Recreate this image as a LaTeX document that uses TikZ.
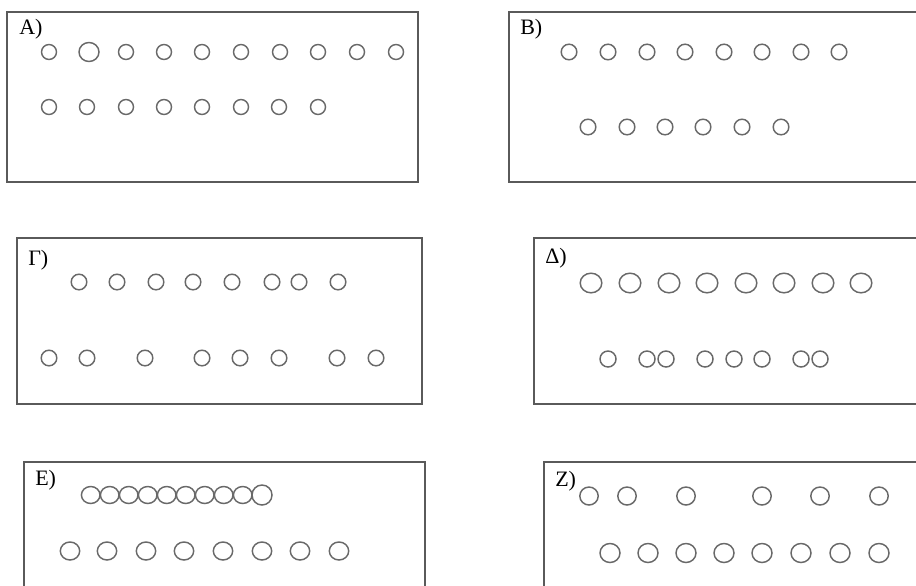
\documentclass[tikz,border=0pt]{standalone}
\usepackage{fontspec}
\setmainfont{Liberation Serif}
\definecolor{frameGray}{RGB}{90, 90, 90}
\definecolor{dotGray}{RGB}{105, 105, 105}

\begin{document}
\begin{tikzpicture}[
    x=0.75pt, y=-0.75pt,
    panel/.style={draw=frameGray, line width=1.4pt},
    dot/.style={draw=dotGray, line width=1.1pt},
    lbl/.style={anchor=base west, inner sep=0pt, font=\fontsize{16.5}{19}\selectfont}
  ]
    \useasboundingbox (0,0) rectangle (916,585);
    \clip (0,0) rectangle (916,585);

    % panel frames
    \draw[panel] (7,12) rectangle (418,182);
    \draw[panel] (509,12) rectangle (930,182);
    \draw[panel] (17,238) rectangle (422,404);
    \draw[panel] (534,238) rectangle (930,404);
    \draw[panel] (24,462) rectangle (425,600);
    \draw[panel] (544,462) rectangle (930,600);

    \node[lbl] (labA) at (19,35) {A)};
    \node[lbl] (labB) at (520,35) {B)};
    \node[lbl] (labG) at (28,265) {Γ)};
    \node[lbl] (labD) at (545,263) {Δ)};
    \node[lbl] (labE) at (35,485) {E)};
    \node[lbl] (labZ) at (555,486) {Z)};

    % A
    \draw[dot] (49,52) circle [radius=7.5];
    \draw[dot] (89,52) ellipse [x radius=10, y radius=9.5];
    \foreach \x in {126,164,202,241,280,318,357,396}
      \draw[dot] (\x,52) circle [radius=7.5];
    \foreach \x in {49,87,126,164,202,241,279,318}
      \draw[dot] (\x,107) circle [radius=7.5];

    % B
    \foreach \x in {569,608,647,685,724,762,801,839}
      \draw[dot] (\x,52) circle [radius=7.8];
    \foreach \x in {588,627,665,703,742,781}
      \draw[dot] (\x,127) circle [radius=7.8];

    % Gamma
    \foreach \x in {79,117,156,193,232,272,299,338}
      \draw[dot] (\x,282) circle [radius=7.8];
    \foreach \x in {49,87,145,202,240,279,337,376}
      \draw[dot] (\x,358) circle [radius=7.8];

    % Delta
    \foreach \x in {591,630,669,707,746,784,823,861}
      \draw[dot] (\x,283) ellipse [x radius=10.8, y radius=9.8];
    \foreach \x in {608,647,666,705,734,762,801,820}
      \draw[dot] (\x,359) circle [radius=8];

    % E
    \foreach \i in {0,...,8}
      \draw[dot] (90.7+19*\i,495) ellipse [x radius=9.3, y radius=8.5];
    \draw[dot] (262,495) circle [radius=10];
    \foreach \x in {70,107,146,184,223,262,300,339}
      \draw[dot] (\x,551) ellipse [x radius=9.7, y radius=9];

    % Z
    \foreach \x in {589,627,686,762,820,879}
      \draw[dot] (\x,496) ellipse [x radius=9.2, y radius=9];
    \foreach \x in {610,648,686,724,762,801,840,879}
      \draw[dot] (\x,553) ellipse [x radius=10, y radius=9.5];
  \end{tikzpicture}
\end{document}
